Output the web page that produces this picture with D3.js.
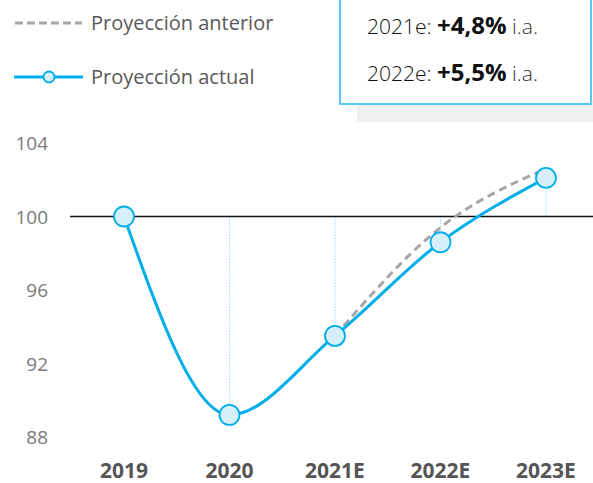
<!DOCTYPE html>
<html>
<head>
<meta charset="utf-8">
<script src="https://cdn.jsdelivr.net/npm/d3@7"></script>
<style>
  body { margin: 0; background: #fff; }
  svg { font-family: "Open Sans", "Noto Sans", sans-serif; }
</style>
</head>
<body>
<div id="root"></div>
<script>
const years = ["2019", "2020", "2021E", "2022E", "2023E"];
const actual = [100, 89.2, 93.5, 98.6, 102.1];
const previousYears = ["2021E", "2022E", "2023E"];
const previous = [93.5, 99.4, 102.6];
const yTicks = [88, 92, 96, 100, 104];
const boxLines = [
  { pre: "2021e: ", bold: "+4,8%", post: " i.a." },
  { pre: "2022e: ", bold: "+5,5%", post: " i.a." }
];

const width = 593, height = 483;
const blue = "#00aeea";

const svg = d3.select("#root").append("svg")
  .attr("width", width)
  .attr("height", height);

const x = d3.scalePoint().domain(years).range([124, 546]);
const y = d3.scaleLinear().domain([88, 104]).range([437, 143]);

// y labels
svg.append("g")
  .selectAll("text")
  .data(yTicks)
  .enter()
  .append("text")
  .attr("x", 48)
  .attr("y", d => y(d) + 7)
  .attr("text-anchor", "end")
  .attr("font-size", 19)
  .attr("fill", "#7a7a7a")
  .text(d => d);

// x labels
svg.append("g")
  .selectAll("text")
  .data(years)
  .enter()
  .append("text")
  .attr("x", d => x(d))
  .attr("y", 478)
  .attr("text-anchor", "middle")
  .attr("font-size", 21)
  .attr("font-weight", "bold")
  .attr("fill", "#555")
  .text(d => d);

// drop lines to 100
svg.append("g")
  .selectAll("line")
  .data(years.slice(1))
  .enter()
  .append("line")
  .attr("x1", d => x(d))
  .attr("x2", d => x(d))
  .attr("y1", y(100))
  .attr("y2", d => y(actual[years.indexOf(d)]))
  .attr("stroke", "#9adcf5")
  .attr("stroke-width", 1)
  .attr("stroke-dasharray", "1.5,1.5");

// base line at 100
svg.append("line")
  .attr("x1", 70)
  .attr("x2", width)
  .attr("y1", y(100))
  .attr("y2", y(100))
  .attr("stroke", "#111")
  .attr("stroke-width", 1.5);

const line = d3.line()
  .x(d => x(d[0]))
  .y(d => y(d[1]))
  .curve(d3.curveMonotoneX);

svg.append("path")
  .datum(previousYears.map((yr, i) => [yr, previous[i]]))
  .attr("d", line)
  .attr("fill", "none")
  .attr("stroke", "#a6a6a6")
  .attr("stroke-width", 3)
  .attr("stroke-dasharray", "8,5");

svg.append("path")
  .datum(years.map((yr, i) => [yr, actual[i]]))
  .attr("d", line)
  .attr("fill", "none")
  .attr("stroke", blue)
  .attr("stroke-width", 3);

svg.append("g")
  .selectAll("circle")
  .data(years)
  .enter()
  .append("circle")
  .attr("cx", d => x(d))
  .attr("cy", (d, i) => y(actual[i]))
  .attr("r", 10)
  .attr("fill", "#d5f0fb")
  .attr("stroke", blue)
  .attr("stroke-width", 1.8);

// legend
const legend = svg.append("g");
legend.append("line")
  .attr("x1", 15).attr("x2", 82).attr("y1", 23).attr("y2", 23)
  .attr("stroke", "#a6a6a6").attr("stroke-width", 3)
  .attr("stroke-dasharray", "8,4");
legend.append("text")
  .attr("x", 91).attr("y", 30)
  .attr("font-size", 20).attr("fill", "#595959")
  .text("Proyección anterior");
legend.append("line")
  .attr("x1", 14).attr("x2", 83).attr("y1", 77).attr("y2", 77)
  .attr("stroke", blue).attr("stroke-width", 3);
legend.append("circle")
  .attr("cx", 49).attr("cy", 77).attr("r", 5.5)
  .attr("fill", "#d5f0fb").attr("stroke", blue).attr("stroke-width", 1.8);
legend.append("text")
  .attr("x", 91).attr("y", 84)
  .attr("font-size", 20).attr("fill", "#595959")
  .text("Proyección actual");

// info box
svg.append("rect")
  .attr("x", 357).attr("y", 100).attr("width", 240).attr("height", 22)
  .attr("fill", "#f0f0f0");
svg.append("rect")
  .attr("x", 340).attr("y", -5).attr("width", 251).attr("height", 109)
  .attr("fill", "#fff").attr("stroke", "#5cc8f0").attr("stroke-width", 2);

const boxText = svg.append("g")
  .selectAll("text")
  .data(boxLines)
  .enter()
  .append("text")
  .attr("x", 367)
  .attr("y", (d, i) => 34 + i * 47)
  .attr("font-size", 21)
  .attr("fill", "#111");
boxText.append("tspan").attr("font-weight", 300).text(d => d.pre);
boxText.append("tspan").attr("font-weight", "bold").attr("font-size", 24).text(d => d.bold);
boxText.append("tspan").attr("font-weight", 300).attr("fill", "#333").text(d => d.post);
</script>
</body>
</html>
